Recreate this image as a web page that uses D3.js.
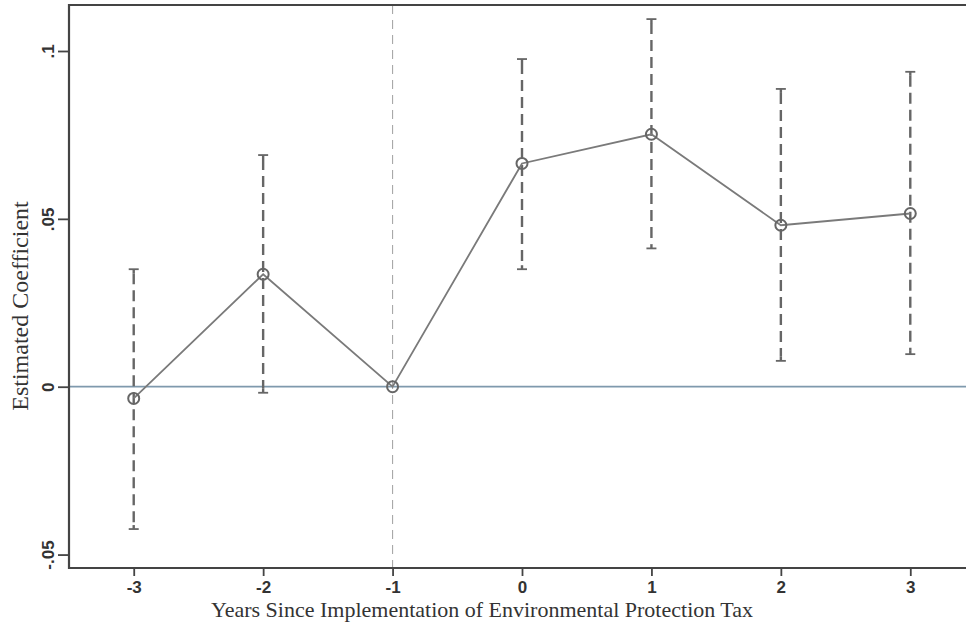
<!DOCTYPE html>
<html>
<head>
  <meta charset="UTF-8">
  <title>Event study</title>
  <style>
    body { margin: 0; background: white; }
    svg { display: block; }
    .tick text { font-family: "Liberation Sans", Arial, sans-serif; font-weight: bold; font-size: 17px; fill: #333; }
    .title { font-family: "Liberation Serif", "Times New Roman", serif; fill: #333; }
  </style>
</head>
<body>
  <svg id="chart" width="966" height="628"></svg>
  <script src="https://d3js.org/d3.v7.min.js"></script>
  <script>
    // event-time periods and estimates
    const years = [-3, -2, -1, 0, 1, 2, 3];
    const coef  = [-0.0035, 0.0335, 0, 0.0665, 0.0752, 0.0481, 0.0516];
    const lower = [-0.0424, -0.0018, null, 0.0350, 0.0412, 0.0077, 0.0097];
    const upper = [0.0350, 0.0690, null, 0.0976, 0.1095, 0.0887, 0.0938];
    const yTicks = [-0.05, 0, 0.05, 0.1];
    const yTickLabels = ["-.05", "0", ".05", ".1"];

    let width = 966, height = 628;
    let margin = { left: 69, top: 5, right: -9, bottom: 60 };

    let svg = d3.select("#chart");

    let x = d3.scaleLinear().domain([-3.5, 3.5]).range([margin.left, width - margin.right]);
    let y = d3.scaleLinear().domain([-0.054, 0.1137]).range([height - margin.bottom, margin.top]);

    let rows = years.map((d, i) => ({ year: d, b: coef[i], lo: lower[i], hi: upper[i] }));

    // zero line
    svg.append("line")
      .attr("x1", x.range()[0]).attr("x2", x.range()[1])
      .attr("y1", y(0)).attr("y2", y(0))
      .attr("stroke", "#7f99ad").attr("stroke-width", 1.8);

    // reference line at -1
    svg.append("line")
      .attr("x1", x(-1)).attr("x2", x(-1))
      .attr("y1", y.range()[1]).attr("y2", y.range()[0])
      .attr("stroke", "#a8a8a8").attr("stroke-width", 1.1)
      .attr("stroke-dasharray", "9,6");

    // confidence intervals
    let ci = svg.append("g").selectAll("g")
      .data(rows.filter(d => d.lo !== null))
      .enter().append("g")
      .attr("stroke", "#666").attr("stroke-width", 2.4);

    ci.append("line")
      .attr("x1", d => x(d.year)).attr("x2", d => x(d.year))
      .attr("y1", d => y(d.hi) + 4).attr("y2", d => y(d.lo) - 4)
      .attr("stroke-dasharray", "11,6");
    ci.append("line")
      .attr("x1", d => x(d.year) - 5).attr("x2", d => x(d.year) + 5)
      .attr("y1", d => y(d.hi)).attr("y2", d => y(d.hi)).attr("stroke-width", 1.8);
    ci.append("line")
      .attr("x1", d => x(d.year)).attr("x2", d => x(d.year))
      .attr("y1", d => y(d.hi)).attr("y2", d => y(d.hi) + 4);
    ci.append("line")
      .attr("x1", d => x(d.year) - 5).attr("x2", d => x(d.year) + 5)
      .attr("y1", d => y(d.lo)).attr("y2", d => y(d.lo)).attr("stroke-width", 1.8);
    ci.append("line")
      .attr("x1", d => x(d.year)).attr("x2", d => x(d.year))
      .attr("y1", d => y(d.lo)).attr("y2", d => y(d.lo) - 4);

    // connecting line
    svg.append("path")
      .datum(rows)
      .attr("fill", "none")
      .attr("stroke", "#7a7a7a").attr("stroke-width", 1.8)
      .attr("d", d3.line().x(d => x(d.year)).y(d => y(d.b)));

    // markers
    svg.append("g").selectAll("circle")
      .data(rows).enter().append("circle")
      .attr("cx", d => x(d.year)).attr("cy", d => y(d.b))
      .attr("r", 5.5)
      .attr("fill", "none")
      .attr("stroke", "#666").attr("stroke-width", 2);

    // frame: left, top, bottom (right side runs off the picture)
    svg.append("path")
      .attr("d", "M" + x.range()[1] + "," + y.range()[1] + "H" + x.range()[0] + "V" + y.range()[0] + "H" + x.range()[1])
      .attr("fill", "none").attr("stroke", "#444").attr("stroke-width", 2.2);

    // axes
    let xAxis = svg.append("g")
      .attr("transform", "translate(0," + y.range()[0] + ")")
      .call(d3.axisBottom(x).tickValues(years).tickFormat(d => String(d)).tickSize(8).tickPadding(5));
    xAxis.select(".domain").remove();
    xAxis.selectAll(".tick line").attr("stroke", "#444").attr("stroke-width", 1.8);

    let yAxis = svg.append("g")
      .attr("transform", "translate(" + x.range()[0] + ",0)")
      .call(d3.axisLeft(y).tickValues(yTicks).tickFormat((d, i) => yTickLabels[i]).tickSize(11));
    yAxis.select(".domain").remove();
    yAxis.selectAll(".tick line").attr("stroke", "#444").attr("stroke-width", 1.8);
    yAxis.selectAll(".tick text")
      .attr("x", 0)
      .attr("transform", "translate(-21,0) rotate(-90)")
      .attr("text-anchor", "middle").attr("dy", "0.35em");

    // titles
    svg.append("text").attr("class", "title")
      .attr("x", 482).attr("y", 617)
      .attr("text-anchor", "middle")
      .style("font-size", "22px")
      .text("Years Since Implementation of Environmental Protection Tax");

    svg.append("text").attr("class", "title")
      .attr("transform", "translate(28,306) rotate(-90)")
      .attr("text-anchor", "middle")
      .style("font-size", "24px")
      .text("Estimated Coefficient");
  </script>
</body>
</html>
